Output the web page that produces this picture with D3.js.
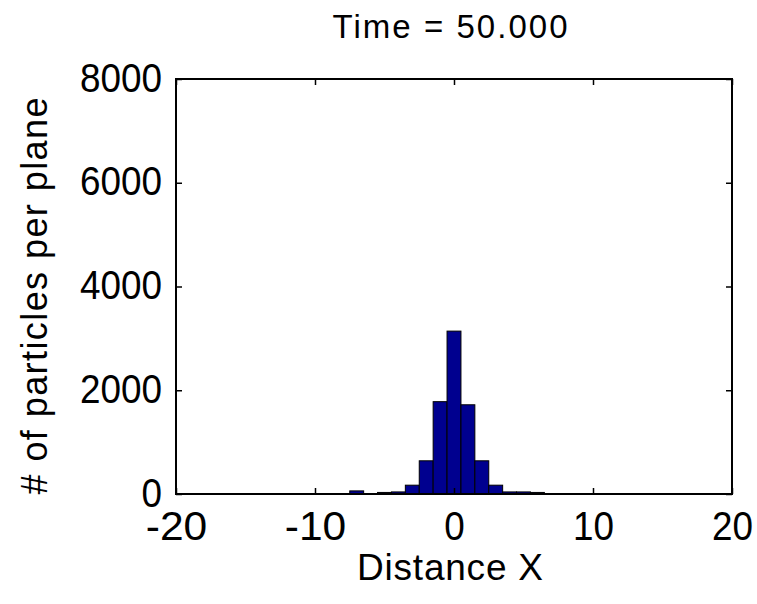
<!DOCTYPE html>
<html lang="en">
<head>
    <meta charset="UTF-8">
    <title>Time = 50.000</title>
    <style>
        body { margin: 0; background: #fff; }
        text { font-family: "Liberation Sans", Arial, sans-serif; fill: #000; }
    </style>
</head>
<body>
    <div id="chart-container"></div>
    <script src="https://d3js.org/d3.v7.min.js"></script>
    <script>
        // histogram bins (centre of each bin) and counts
        const binCenters = [-7, -6, -5, -4, -3, -2, -1, 0, 1, 2, 3, 4, 5, 6];
        const counts = [60, 0, 30, 40, 170, 640, 1780, 3140, 1720, 640, 170, 40, 40, 30];
        const xTicks = [-20, -10, 0, 10, 20];
        const yTicks = [0, 2000, 4000, 6000, 8000];
        const titleText = "Time = 50.000";
        const xLabel = "Distance X";
        const yLabel = "# of particles per plane";

        const W = 757, H = 604;
        const MARGIN = {LEFT: 176, TOP: 79, RIGHT: 25, BOTTOM: 110};
        const WIDTH = W - MARGIN.LEFT - MARGIN.RIGHT;
        const HEIGHT = H - MARGIN.TOP - MARGIN.BOTTOM;

        const svg = d3.select("#chart-container").append("svg")
            .attr("width", W)
            .attr("height", H);
        const g = svg.append("g")
            .attr("transform", `translate(${MARGIN.LEFT}, ${MARGIN.TOP})`);

        const x = d3.scaleLinear().domain([-20, 20]).range([0, WIDTH]);
        const y = d3.scaleLinear().domain([0, 8000]).range([HEIGHT, 0]);

        const data = binCenters.map((c, i) => ({c: c, n: counts[i]}));

        // bars
        g.selectAll(".bar").data(data).enter().append("rect")
            .attr("class", "bar")
            .attr("x", d => x(d.c - 0.5))
            .attr("width", d => x(d.c + 0.5) - x(d.c - 0.5))
            .attr("y", d => y(d.n))
            .attr("height", d => y(0) - y(d.n))
            .attr("fill", "#00008f")
            .attr("stroke", "#000")
            .attr("stroke-width", 1);

        // plain integer labels with an ascii hyphen, like the original
        const fmt = d => String(d);

        // axes, ticks pointing inward
        const xAxis = g.append("g")
            .attr("transform", `translate(0, ${HEIGHT})`)
            .call(d3.axisBottom(x).tickValues(xTicks).tickSize(-6).tickPadding(18).tickFormat(fmt));
        const xTop = g.append("g")
            .call(d3.axisTop(x).tickValues(xTicks).tickSize(-6).tickFormat(""));
        const yAxis = g.append("g")
            .call(d3.axisLeft(y).tickValues(yTicks).tickSize(-6).tickPadding(14).tickFormat(fmt));
        const yRight = g.append("g")
            .attr("transform", `translate(${WIDTH}, 0)`)
            .call(d3.axisRight(y).tickValues(yTicks).tickSize(-6).tickFormat(""));

        [xAxis, xTop, yAxis, yRight].forEach(a => {
            a.select(".domain").remove();
            a.selectAll("line").attr("stroke", "#000").attr("stroke-width", 1.5);
            a.selectAll("text")
                .attr("font-family", "\"Liberation Sans\", Arial, sans-serif")
                .attr("font-size", 40)
                .attr("fill", "#000")
                // the original glyphs are narrower than Arial's
                .attr("textLength", function() { return this.textContent.length * 20.5; })
                .attr("lengthAdjust", "spacingAndGlyphs");
        });
        yAxis.selectAll("text").attr("dy", "0.3em");

        // box
        g.append("rect")
            .attr("x", 0).attr("y", 0)
            .attr("width", WIDTH).attr("height", HEIGHT)
            .attr("fill", "none")
            .attr("stroke", "#000")
            .attr("stroke-width", 2);

        // title and labels
        svg.append("text")
            .attr("x", 450).attr("y", 38)
            .attr("text-anchor", "middle")
            .attr("font-size", 33)
            .attr("textLength", 235)
            .attr("lengthAdjust", "spacing")
            .text(titleText);

        svg.append("text")
            .attr("x", 450).attr("y", 580)
            .attr("text-anchor", "middle")
            .attr("font-size", 37)
            .attr("textLength", 186)
            .attr("lengthAdjust", "spacing")
            .text(xLabel);

        svg.append("text")
            .attr("transform", "translate(47, 296) rotate(-90)")
            .attr("text-anchor", "middle")
            .attr("font-size", 36)
            .attr("textLength", 397)
            .attr("lengthAdjust", "spacing")
            .text(yLabel);
    </script>
</body>
</html>
